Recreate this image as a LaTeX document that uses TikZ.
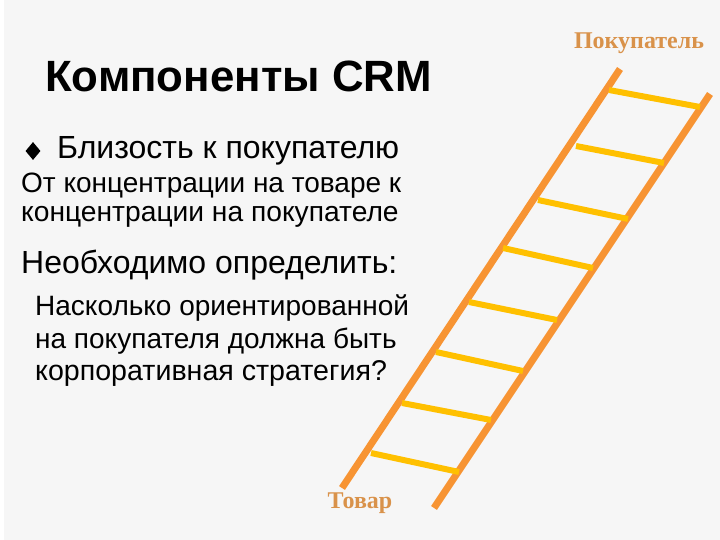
\documentclass[tikz,border=0pt]{standalone}
\usepackage{fontspec}
\usetikzlibrary{shapes.geometric}
\setmainfont{Liberation Sans}
\newfontfamily\serifb{Liberation Serif}
\definecolor{bgc}{HTML}{F6F6F6}
\definecolor{railc}{HTML}{F79433}
\definecolor{rungc}{HTML}{FFC000}
\definecolor{labc}{HTML}{D9924A}
\tikzset{
 txt/.style={anchor=base west,inner sep=0pt,text=black},
 rail/.style={draw=railc,line width=7pt},
 rung/.style={draw=rungc,line width=6pt},
 lab/.style={anchor=base,inner sep=0pt,text=labc,font=\serifb\bfseries\fontsize{24}{24}\selectfont}
}
\begin{document}
\begin{tikzpicture}[x=1pt,y=-1pt]
\useasboundingbox (0,0) rectangle (720,540);
\fill[white] (0,0) rectangle (720,540);
\fill[bgc] (4,0) rectangle (720,540);
\node[txt,font=\bfseries\fontsize{43.8}{43.8}\selectfont] (title) at (45,92) {Компоненты CRM};
\node[diamond,fill=black,inner sep=0pt,minimum width=15pt,minimum height=18pt] (bul) at (33,151) {};
\node[txt,font=\fontsize{32}{32}\selectfont] (b1) at (57,159) {Близость к покупателю};
\node[txt,font=\fontsize{28}{28}\selectfont] (l1) at (21,193) {От концентрации на товаре к};
\node[txt,font=\fontsize{28.2}{28.2}\selectfont] (l2) at (21,222) {концентрации на покупателе};
\node[txt,font=\fontsize{32}{32}\selectfont] (h) at (21,273) {Необходимо определить:};
\node[txt,font=\fontsize{28}{28}\selectfont] (p1) at (35,315) {Насколько ориентированной};
\node[txt,font=\fontsize{28}{28}\selectfont] (p2) at (35,348) {на покупателя должна быть};
\node[txt,font=\fontsize{28.6}{28.6}\selectfont] (p3) at (35,380) {корпоративная стратегия?};
\coordinate (la) at (342,488); \coordinate (lb) at (620,69);
\coordinate (ra) at (434,508); \coordinate (rb) at (710,94);
\draw[rail] (la) -- (lb);
\draw[rail] (ra) -- (rb);
\foreach \a/\b/\c/\d/\n in {609/90/700/107/1,576/146/664/163/2,538/200/628/219/3,503/248/593/268/4,469/302/557/320/5,436/352/523/371/6,402/403/491/420/7,371/453/459/472/8}{
 \coordinate (r\n a) at (\a,\b); \coordinate (r\n b) at (\c,\d);
 \draw[rung] (r\n a) -- (r\n b);
}
\node[lab] (buyer) at (639,49) {Покупатель};
\node[lab] (goods) at (360,508) {Товар};
\end{tikzpicture}
\end{document}
